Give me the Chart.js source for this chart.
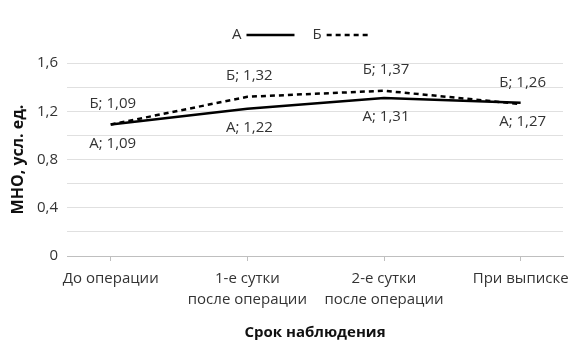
<!DOCTYPE html>
<html>
<head>
<meta charset="utf-8">
<script src="https://cdn.jsdelivr.net/npm/chart.js@4/dist/chart.umd.min.js"></script>
<style>
  html, body { margin: 0; padding: 0; background: #fff; }
  canvas { display: block; }
</style>
</head>
<body>
<canvas id="chart" width="577" height="347"></canvas>
<script>
// Observation periods (x axis)
const categories = [
  ['До операции'],
  ['1-е сутки', 'после операции'],
  ['2-е сутки', 'после операции'],
  ['При выписке']
];
// INR values per group
const seriesNames = ['А', 'Б'];
const seriesA = [1.09, 1.22, 1.31, 1.27];
const seriesB = [1.09, 1.32, 1.37, 1.26];
// Labelled y values
const yTickLabels = [0, 0.4, 0.8, 1.2, 1.6];

const FONT = '"Open Sans", "Noto Sans", sans-serif';
const TEXT = '#333333';

const fmt = v => String(Number(v.toFixed(2))).replace('.', ',');
const toPoints = arr => arr.map((v, i) => ({ x: i, y: v }));

// Value labels "Name; value" above / below each point
const valueLabels = {
  id: 'valueLabels',
  afterDatasetsDraw(chart, args, opts) {
    const ctx = chart.ctx;
    ctx.save();
    ctx.font = '15px ' + FONT;
    ctx.fillStyle = TEXT;
    ctx.textAlign = 'center';
    ctx.textBaseline = 'middle';
    chart.data.datasets.forEach((ds, di) => {
      const meta = chart.getDatasetMeta(di);
      const off = opts.offsets[di];
      meta.data.forEach((pt, i) => {
        ctx.fillText(ds.label + '; ' + fmt(ds.data[i].y), pt.x + 2, pt.y + off);
      });
    });
    ctx.restore();
  }
};

// Legend: name first, then a line sample in the series style
const lineLegend = {
  id: 'lineLegend',
  afterDraw(chart, args, opts) {
    const ctx = chart.ctx;
    ctx.save();
    ctx.font = '15px ' + FONT;
    ctx.fillStyle = TEXT;
    ctx.textBaseline = 'middle';
    ctx.textAlign = 'left';
    let x = opts.x;
    const y = opts.y;
    chart.data.datasets.forEach((ds, di) => {
      ctx.fillText(ds.label, x, y);
      x += ctx.measureText(ds.label).width + opts.gap;
      ctx.beginPath();
      ctx.setLineDash(ds.borderDash || []);
      ctx.lineWidth = ds.borderWidth;
      ctx.strokeStyle = ds.borderColor;
      ctx.moveTo(x, y);
      ctx.lineTo(x + opts.lineLengths[di], y);
      ctx.stroke();
      x += opts.lineLengths[di] + opts.spacing;
    });
    ctx.restore();
  }
};

new Chart(document.getElementById('chart'), {
  type: 'line',
  data: {
    datasets: [
      {
        label: seriesNames[0],
        data: toPoints(seriesA),
        borderColor: '#000',
        borderWidth: 2.5,
        pointRadius: 0,
        tension: 0,
        order: 1
      },
      {
        label: seriesNames[1],
        data: toPoints(seriesB),
        borderColor: '#000',
        borderWidth: 2.5,
        borderDash: [5, 4],
        pointRadius: 0,
        tension: 0,
        order: 0
      }
    ]
  },
  options: {
    responsive: false,
    animation: false,
    devicePixelRatio: 1,
    layout: { padding: { top: 63, right: 14, left: 0, bottom: 0 } },
    plugins: {
      legend: { display: false },
      tooltip: { enabled: false },
      valueLabels: { offsets: [19, -21] },
      lineLegend: { x: 232, y: 35, gap: 5, spacing: 18, lineLengths: [48, 43] }
    },
    scales: {
      x: {
        type: 'linear',
        min: -0.32,
        max: 3.31,
        afterFit(scale) { scale.height = 91; },
        afterBuildTicks(scale) {
          scale.ticks = categories.map((c, i) => ({ value: i }));
        },
        ticks: {
          includeBounds: false,
          stepSize: 1,
          autoSkip: false,
          maxRotation: 0,
          padding: 7,
          color: TEXT,
          font: { family: FONT, size: 15, lineHeight: 1.4 },
          callback: v => categories[v]
        },
        grid: {
          drawOnChartArea: false,
          drawTicks: true,
          tickLength: 5,
          color: '#bfbfbf'
        },
        border: { display: true, color: '#bfbfbf', width: 1 },
        title: {
          display: true,
          text: 'Срок наблюдения',
          color: '#111',
          font: { family: FONT, size: 15, weight: 'bold' },
          padding: { top: 0, bottom: 5 }
        }
      },
      y: {
        min: 0,
        max: 1.6,
        afterFit(scale) { scale.width = 67; },
        ticks: {
          stepSize: 0.2,
          padding: 9,
          color: TEXT,
          font: { family: FONT, size: 15 },
          callback: v => yTickLabels.some(t => Math.abs(t - v) < 1e-6) ? fmt(v) : ''
        },
        grid: {
          drawTicks: false,
          color: ctx => ctx.tick && ctx.tick.value === 0 ? '#bfbfbf' : '#e0e0e0'
        },
        border: { display: false },
        title: {
          display: true,
          text: 'МНО, усл. ед.',
          color: '#111',
          font: { family: FONT, size: 16, weight: 'bold' },
          padding: { top: 9, bottom: 0 }
        }
      }
    }
  },
  plugins: [valueLabels, lineLegend]
});
</script>
</body>
</html>
